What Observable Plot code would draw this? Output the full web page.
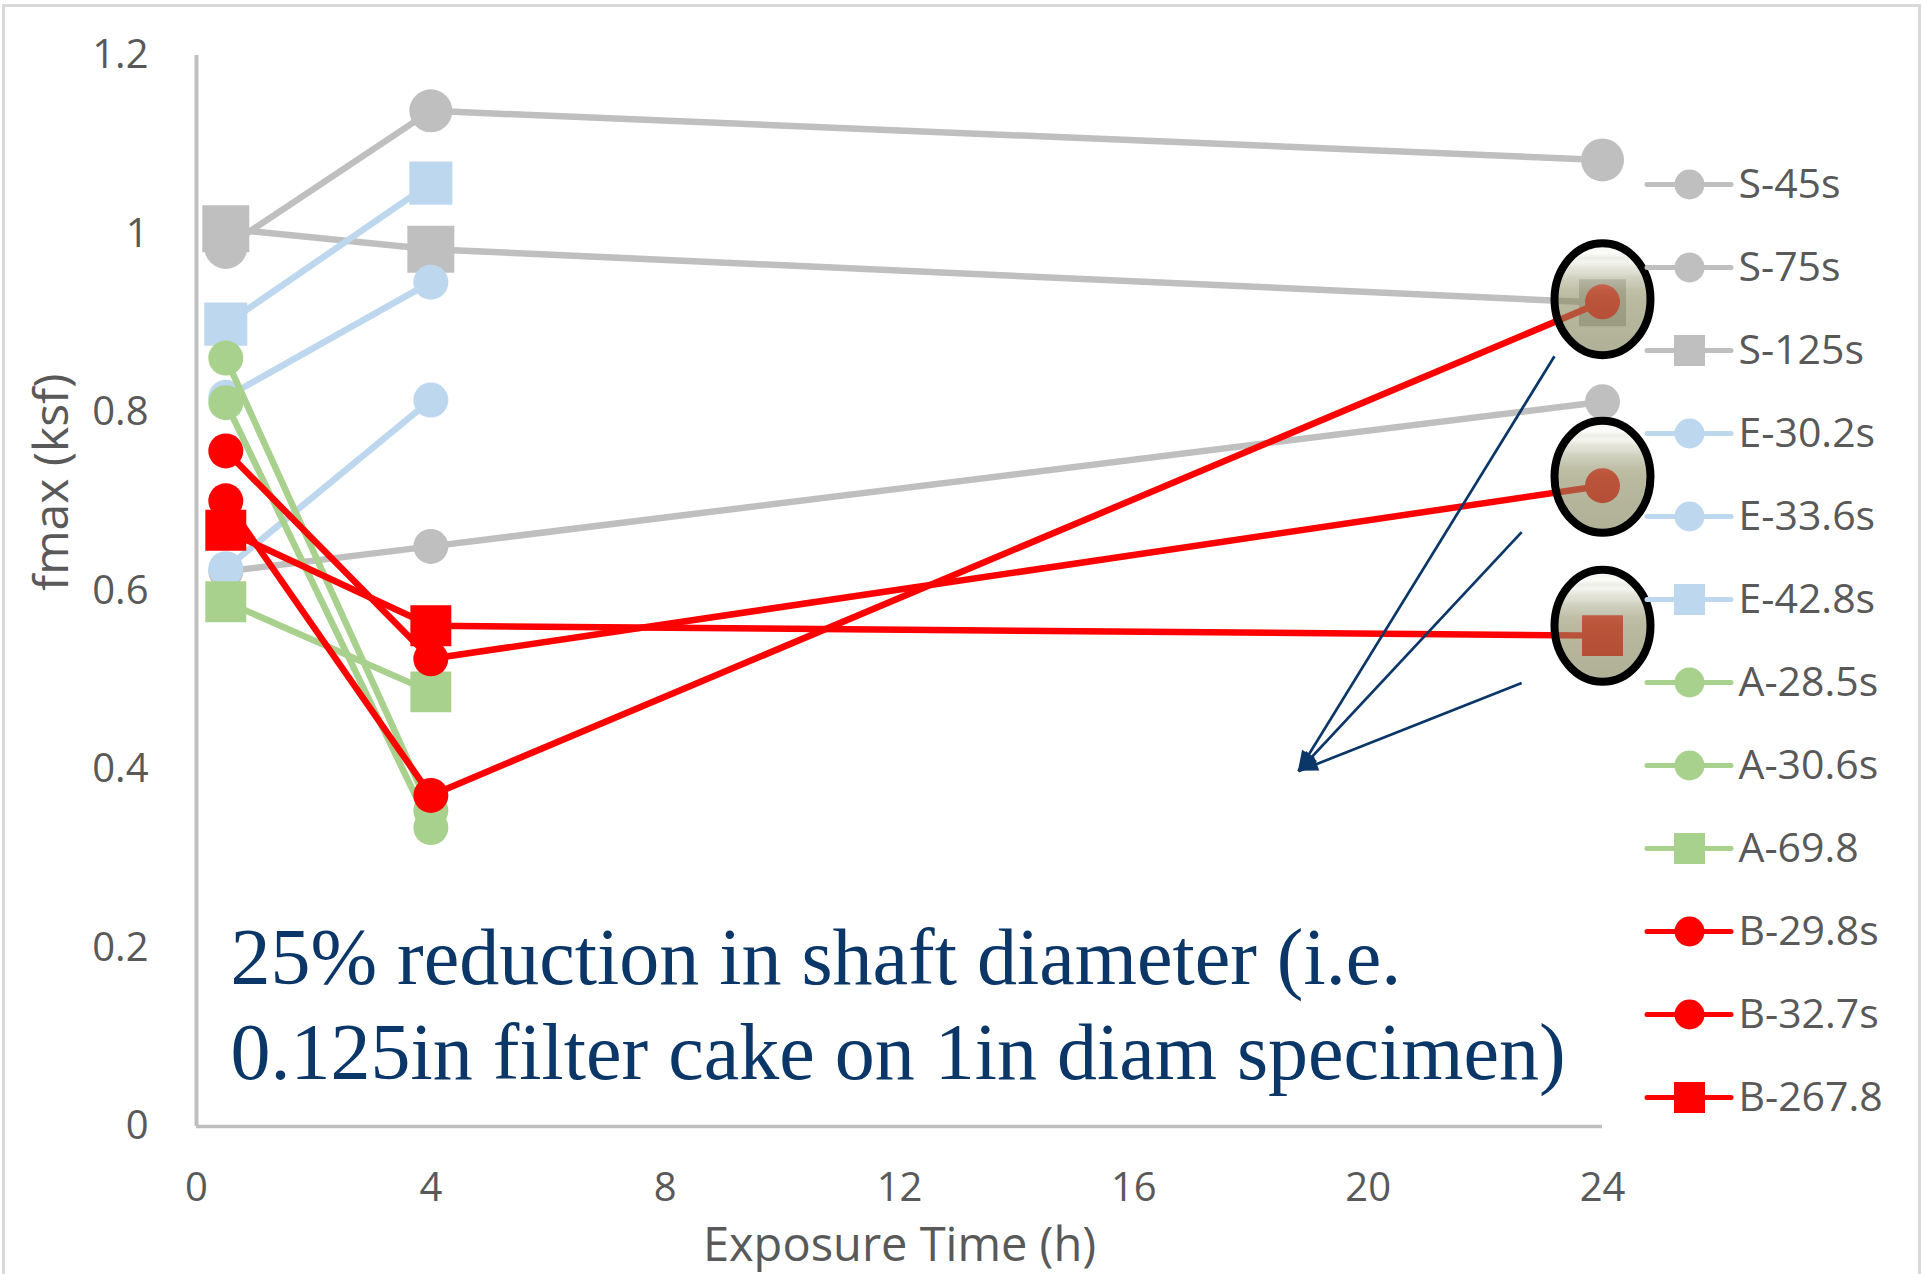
<!DOCTYPE html>
<html>
<head>
<meta charset="utf-8">
<script src="https://cdn.jsdelivr.net/npm/d3@7"></script>
<script src="https://cdn.jsdelivr.net/npm/@observablehq/plot@0.6"></script>
<style>
  html, body { margin: 0; padding: 0; background: #ffffff; overflow: hidden; }
  #wrap { position: relative; width: 1923px; height: 1274px; }
  #legend { position: absolute; left: 1640px; top: 0px; }
  #border { position: absolute; left: 2px; top: 4px; width: 1913px; height: 1320px;
            border: 3px solid #D9D9D9; pointer-events: none; }
</style>
</head>
<body>
<div id="wrap">
  <div id="chart"></div>
  <div id="legend"></div>
  <div id="border"></div>
</div>
<script>
// ---------------- data ----------------
const times = [0.5, 4, 24];                       // exposure time (h)
const seriesNames = ["S-45s", "S-75s", "S-125s", "E-30.2s", "E-33.6s", "E-42.8s",
                     "A-28.5s", "A-30.6s", "A-69.8", "B-29.8s", "B-32.7s", "B-267.8"];
const S_45s   = [0.985, 1.138, 1.083];
const S_75s   = [0.622, 0.650, 0.812];
const S_125s  = [1.006, 0.983, 0.923];
const E_30_2s = [0.817, 0.946, null];
const E_33_6s = [0.625, 0.814, null];
const E_42_8s = [0.899, 1.057, null];
const A_28_5s = [0.861, 0.354, null];
const A_30_6s = [0.811, 0.335, null];
const A_69_8  = [0.588, 0.487, null];
const B_29_8s = [0.757, 0.524, 0.718];
const B_32_7s = [0.701, 0.371, 0.924];
const B_267_8 = [0.668, 0.561, 0.550];

const xTicks = [0, 4, 8, 12, 16, 20, 24];
const yTicks = [0, 0.2, 0.4, 0.6, 0.8, 1.0, 1.2];
const yTickLabels = ["0", "0.2", "0.4", "0.6", "0.8", "1", "1.2"];
const xLabel = "Exposure Time (h)";
const yLabel = "fmax (ksf)";

// annotation (in data units)
const noteLines = ["25% reduction in shaft diameter (i.e.", "0.125in filter cake on 1in diam specimen)"];
const noteX = [0.58, 0.58];
const noteY = [0.160, 0.0527];
const highlightX = [24, 24, 24];
const highlightY = [0.927, 0.728, 0.561];
const arrowFromX = [23.18, 22.62, 22.62];
const arrowFromY = [0.863, 0.666, 0.497];
const arrowToX = [18.81, 18.81, 18.81];
const arrowToY = [0.398, 0.398, 0.398];

// ---------------- styles ----------------
const GRAY = "#BFBFBF", BLUE = "#BDD7EE", GREEN = "#A9D18E", RED = "#FF0000";
const NAVY = "#0A3668";
const seriesStyle = {
  "S-45s":   {color: GRAY,  symbol: "circle", r: 21.5},
  "S-75s":   {color: GRAY,  symbol: "circle", r: 17.5},
  "S-125s":  {color: GRAY,  symbol: "square", r: 26.5},
  "E-30.2s": {color: BLUE,  symbol: "circle", r: 17.5},
  "E-33.6s": {color: BLUE,  symbol: "circle", r: 17.5},
  "E-42.8s": {color: BLUE,  symbol: "square", r: 24.3},
  "A-28.5s": {color: GREEN, symbol: "circle", r: 17.5},
  "A-30.6s": {color: GREEN, symbol: "circle", r: 17.5},
  "A-69.8":  {color: GREEN, symbol: "square", r: 23.1},
  "B-29.8s": {color: RED,   symbol: "circle", r: 17.5},
  "B-32.7s": {color: RED,   symbol: "circle", r: 17.5},
  "B-267.8": {color: RED,   symbol: "square", r: 23.1}
};
const seriesValues = {
  "S-45s": S_45s, "S-75s": S_75s, "S-125s": S_125s,
  "E-30.2s": E_30_2s, "E-33.6s": E_33_6s, "E-42.8s": E_42_8s,
  "A-28.5s": A_28_5s, "A-30.6s": A_30_6s, "A-69.8": A_69_8,
  "B-29.8s": B_29_8s, "B-32.7s": B_32_7s, "B-267.8": B_267_8
};

// tidy table
const table = [];
for (const name of seriesNames) {
  seriesValues[name].forEach((v, i) => { if (v != null) table.push({series: name, t: times[i], v}); });
}
const notes = noteLines.map((text, i) => ({text, x: noteX[i], y: noteY[i]}));
const highlights = highlightX.map((x, i) => ({x, y: highlightY[i]}));
const arrows = arrowFromX.map((x1, i) => ({x1, y1: arrowFromY[i], x2: arrowToX[i], y2: arrowToY[i]}));

// ellipse symbol
const ellipseSymbol = {
  draw(ctx, size) {
    const ry = Math.sqrt(size / Math.PI), rx = ry * 0.857, k = 0.5523;
    ctx.moveTo(0, -ry);
    ctx.bezierCurveTo(k * rx, -ry, rx, -k * ry, rx, 0);
    ctx.bezierCurveTo(rx, k * ry, k * rx, ry, 0, ry);
    ctx.bezierCurveTo(-k * rx, ry, -rx, k * ry, -rx, 0);
    ctx.bezierCurveTo(-rx, -k * ry, -k * rx, -ry, 0, -ry);
    ctx.closePath();
  }
};
const gradientStops = [
  [0, "#ffffff"], [0.05, "#f2f2ec"], [0.09, "#fafaf6"], [0.13, "#e2e2d6"], [0.17, "#eeeee6"],
  [0.22, "#d2d2c0"], [0.27, "#c6c6b0"], [0.31, "#b2b296"], [0.36, "#a6a688"], [0.42, "#96966e"],
  [0.5, "#8c8c60"], [0.7, "#84845a"], [1, "#7c7c52"]
];
const defsMark = () => {
  const defs = d3.create("svg:defs");
  const g = defs.append("linearGradient").attr("id", "ellGrad")
    .attr("x1", 0).attr("y1", 0).attr("x2", 0).attr("y2", 1);
  for (const [o, c] of gradientStops) g.append("stop").attr("offset", o).attr("stop-color", c);
  return defs.node();
};
// filled arrow heads, positioned through the plot's scales
const arrowHeads = (index, scales) => {
  const g = d3.create("svg:g").attr("fill", NAVY);
  const L = 20, W = 7.5;
  for (const a of arrows) {
    const x1 = scales.x(a.x1), y1 = scales.y(a.y1), x2 = scales.x(a.x2), y2 = scales.y(a.y2);
    const ang = Math.atan2(y2 - y1, x2 - x1), c = Math.cos(ang), s = Math.sin(ang);
    const bx = x2 - L * c, by = y2 - L * s;
    g.append("path").attr("d",
      `M${x2},${y2}L${bx - W * s},${by + W * c}L${bx + W * s},${by - W * c}Z`);
  }
  return g.node();
};

const FONT = "'Open Sans', 'Noto Sans', sans-serif";
const TEXT = "#595959";

const marks = [
  defsMark,
  Plot.ruleX([0], {y1: yTicks[0], y2: yTicks[yTicks.length - 1], stroke: GRAY, strokeWidth: 4}),
  Plot.ruleY([0], {x1: xTicks[0], x2: xTicks[xTicks.length - 1], stroke: GRAY, strokeWidth: 3.5}),
  Plot.axisX({ticks: xTicks, tickSize: 0, tickPadding: 46, fontSize: 40, fill: TEXT, label: null}),
  Plot.axisY({ticks: yTicks, tickFormat: d => yTickLabels[yTicks.indexOf(d)], tickSize: 0, tickPadding: 48,
              fontSize: 40, fill: TEXT, label: null}),
  Plot.text([yLabel], {text: d => d, frameAnchor: "left", rotate: -90, dx: -144, fontSize: 48, fill: TEXT}),
  Plot.text([xLabel], {text: d => d, frameAnchor: "bottom", lineAnchor: "bottom", dy: 134, fontSize: 47, fill: TEXT}),
  Plot.text(notes, {x: "x", y: "y", text: "text", textAnchor: "start", lineAnchor: "bottom",
                    fontFamily: "'Liberation Serif', 'Times New Roman', serif", fontSize: 80, fill: NAVY})
];
for (const name of seriesNames) {
  const st = seriesStyle[name];
  const rows = table.filter(d => d.series === name);
  marks.push(Plot.line(rows, {x: "t", y: "v", stroke: st.color, strokeWidth: 6.5}));
  marks.push(Plot.dot(rows, {x: "t", y: "v", symbol: st.symbol, r: st.r, fill: st.color}));
}
marks.push(Plot.dot(highlights, {x: "x", y: "y", symbol: ellipseSymbol, r: 56, fill: "url(#ellGrad)",
                                 fillOpacity: 0.6, stroke: "#000000", strokeWidth: 8}));
marks.push(Plot.link(arrows, {x1: "x1", y1: "y1", x2: "x2", y2: "y2", stroke: NAVY, strokeWidth: 2.7}));
marks.push(arrowHeads);

const chart = Plot.plot({
  width: 1923, height: 1274,
  marginLeft: 196, marginRight: 321, marginTop: 55, marginBottom: 148,
  x: {domain: [xTicks[0], xTicks[xTicks.length - 1]]},
  y: {domain: [yTicks[0], yTicks[yTicks.length - 1]]},
  style: {fontFamily: FONT, color: TEXT, background: "#ffffff"},
  marks
});
document.getElementById("chart").appendChild(chart);

// ---------------- legend ----------------
const legendMarks = [];
for (const name of seriesNames) {
  const st = seriesStyle[name];
  legendMarks.push(Plot.ruleY([name], {y: d => d, x1: 0, x2: 1, stroke: st.color, strokeWidth: 5, strokeLinecap: "round"}));
  legendMarks.push(Plot.dot([name], {y: d => d, x: 0.5, symbol: st.symbol, r: st.symbol === "square" ? 17.5 : 15, fill: st.color}));
  legendMarks.push(Plot.text([name], {y: d => d, x: 1, dx: 7, text: d => d, textAnchor: "start", fontSize: 41, fill: TEXT}));
}
const legend = Plot.plot({
  width: 283, height: 1274,
  marginLeft: 7, marginRight: 192, marginTop: 182.3, marginBottom: 175.4,
  x: {domain: [0, 1], axis: null},
  y: {type: "point", domain: seriesNames, padding: 0, axis: null},
  style: {fontFamily: FONT, color: TEXT, background: "transparent", overflow: "visible"},
  marks: legendMarks
});
document.getElementById("legend").appendChild(legend);
</script>
</body>
</html>
